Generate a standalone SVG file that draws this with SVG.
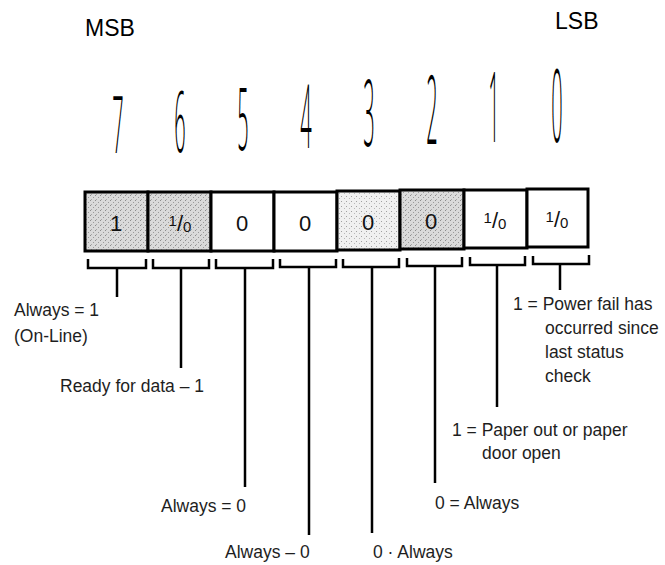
<svg xmlns="http://www.w3.org/2000/svg" width="665" height="565" viewBox="0 0 665 565">
<defs>
  <pattern id="stipA" width="5" height="5" patternUnits="userSpaceOnUse">
    <rect width="5" height="5" fill="#dadada"/>
    <rect x="0" y="0" width="1" height="1" fill="#8c8c8c"/>
    <rect x="3" y="2" width="1" height="1" fill="#9a9a9a"/>
    <rect x="1" y="4" width="1" height="1" fill="#a8a8a8"/>
  </pattern>
  <pattern id="stipB" width="5" height="5" patternUnits="userSpaceOnUse">
    <rect width="5" height="5" fill="#f0f0f0"/>
    <rect x="1" y="1" width="1" height="1" fill="#a0a0a0"/>
    <rect x="4" y="3" width="1" height="1" fill="#b8b8b8"/>
  </pattern>
</defs>
<style>
  .t { font-family: "Liberation Sans", Arial, sans-serif; fill: #1e1e1e; }
  .lbl { font-size: 17.5px; }
  .hdr { font-size: 23px; fill: #000; }
  .dig { font-family: "Open Sans", "Liberation Sans", Arial, sans-serif; font-weight: 300; font-size: 20px; fill: #000; text-anchor: middle; }
  .box { stroke: #000; stroke-width: 3; }
  .bv { font-family: "Liberation Sans", Arial, sans-serif; font-size: 22px; fill: #111; text-anchor: middle; }
  .br { fill: none; stroke: #000; stroke-width: 2.5; }
  .stem { fill: none; stroke: #000; stroke-width: 2.5; }
</style>
<rect width="665" height="565" fill="#fff"/>

<g id="headers">
  <text class="t hdr" x="85" y="36">MSB</text>
  <text class="t hdr" x="555" y="29">LSB</text>
</g>

<g id="bit-numbers">
  <text class="dig" transform="translate(118,153) scale(1,4.0)">7</text>
  <text class="dig" transform="translate(180,152) scale(1,4.2)">6</text>
  <text class="dig" transform="translate(243,150) scale(1,4.35)">5</text>
  <text class="dig" transform="translate(306,148) scale(1,4.45)">4</text>
  <text class="dig" transform="translate(369,146) scale(1,4.65)">3</text>
  <text class="dig" transform="translate(432,144) scale(1,4.8)">2</text>
  <text class="dig" transform="translate(494,142) scale(1,4.85)">1</text>
  <text class="dig" transform="translate(557,142) scale(1,5.05)">0</text>
</g>

<g id="bit7"><rect class="box" x="85" y="192" width="63" height="59" fill="url(#stipA)"/><text class="bv" x="116" y="231">1</text></g>
<g id="bit6"><rect class="box" x="148" y="192" width="63" height="59" fill="url(#stipA)"/><text class="bv" x="180" y="231"><tspan font-size="15" dy="-5">1</tspan><tspan dy="5">/</tspan><tspan font-size="15" dy="1">0</tspan></text></g>
<g id="bit5"><rect class="box" x="211" y="192" width="63" height="59" fill="#fff"/><text class="bv" x="242" y="231">0</text></g>
<g id="bit4"><rect class="box" x="274" y="192" width="63" height="59" fill="#fff"/><text class="bv" x="305" y="231">0</text></g>
<g id="bit3"><rect class="box" x="337" y="191" width="63" height="59" fill="url(#stipB)"/><text class="bv" x="368" y="230">0</text></g>
<g id="bit2"><rect class="box" x="400" y="190" width="64" height="59" fill="url(#stipA)"/><text class="bv" x="431" y="229">0</text></g>
<g id="bit1"><rect class="box" x="464" y="190" width="63" height="58" fill="#fff"/><text class="bv" x="495" y="228"><tspan font-size="15" dy="-5">1</tspan><tspan dy="5">/</tspan><tspan font-size="15" dy="1">0</tspan></text></g>
<g id="bit0"><rect class="box" x="527" y="189" width="61" height="58" fill="#fff"/><text class="bv" x="557" y="227"><tspan font-size="15" dy="-5">1</tspan><tspan dy="5">/</tspan><tspan font-size="15" dy="1">0</tspan></text></g>

<g id="connectors">
  <path class="br" d="M88 259 V268 H146 V259"/>
  <path class="br" d="M153 259 V268 H209 V259"/>
  <path class="br" d="M216 259 V268 H273 V259"/>
  <path class="br" d="M280 259 V267 H336 V259"/>
  <path class="br" d="M343 259 V267 H399 V258"/>
  <path class="br" d="M407 258 V266 H462 V257"/>
  <path class="br" d="M470 257 V265 H525 V256"/>
  <path class="br" d="M533 256 V264 H589 V255"/>
  <path class="stem" d="M117 268 V297"/>
  <path class="stem" d="M181 268 V368"/>
  <path class="stem" d="M245 268 V487"/>
  <path class="stem" d="M309 267 V535"/>
  <path class="stem" d="M372 267 V533"/>
  <path class="stem" d="M435 266 V483"/>
  <path class="stem" d="M497 265 V407"/>
  <path class="stem" d="M560 264 V290"/>
</g>

<g id="label7">
  <text class="t lbl" x="14" y="316">Always = 1</text>
  <text class="t lbl" x="14" y="342">(On-Line)</text>
</g>
<g id="label6"><text class="t lbl" x="60" y="392">Ready for data – 1</text></g>
<g id="label5"><text class="t lbl" x="161" y="512">Always = 0</text></g>
<g id="label4"><text class="t lbl" x="225" y="558">Always – 0</text></g>
<g id="label3"><text class="t lbl" x="373" y="558">0 · Always</text></g>
<g id="label2"><text class="t lbl" x="435" y="509">0 = Always</text></g>
<g id="label1">
  <text class="t lbl" x="452" y="436">1 = Paper out or paper</text>
  <text class="t lbl" x="482" y="459">door open</text>
</g>
<g id="label0">
  <text class="t lbl" x="513" y="310">1 = Power fail has</text>
  <text class="t lbl" x="545" y="334">occurred since</text>
  <text class="t lbl" x="545" y="358">last status</text>
  <text class="t lbl" x="545" y="382">check</text>
</g>
</svg>
